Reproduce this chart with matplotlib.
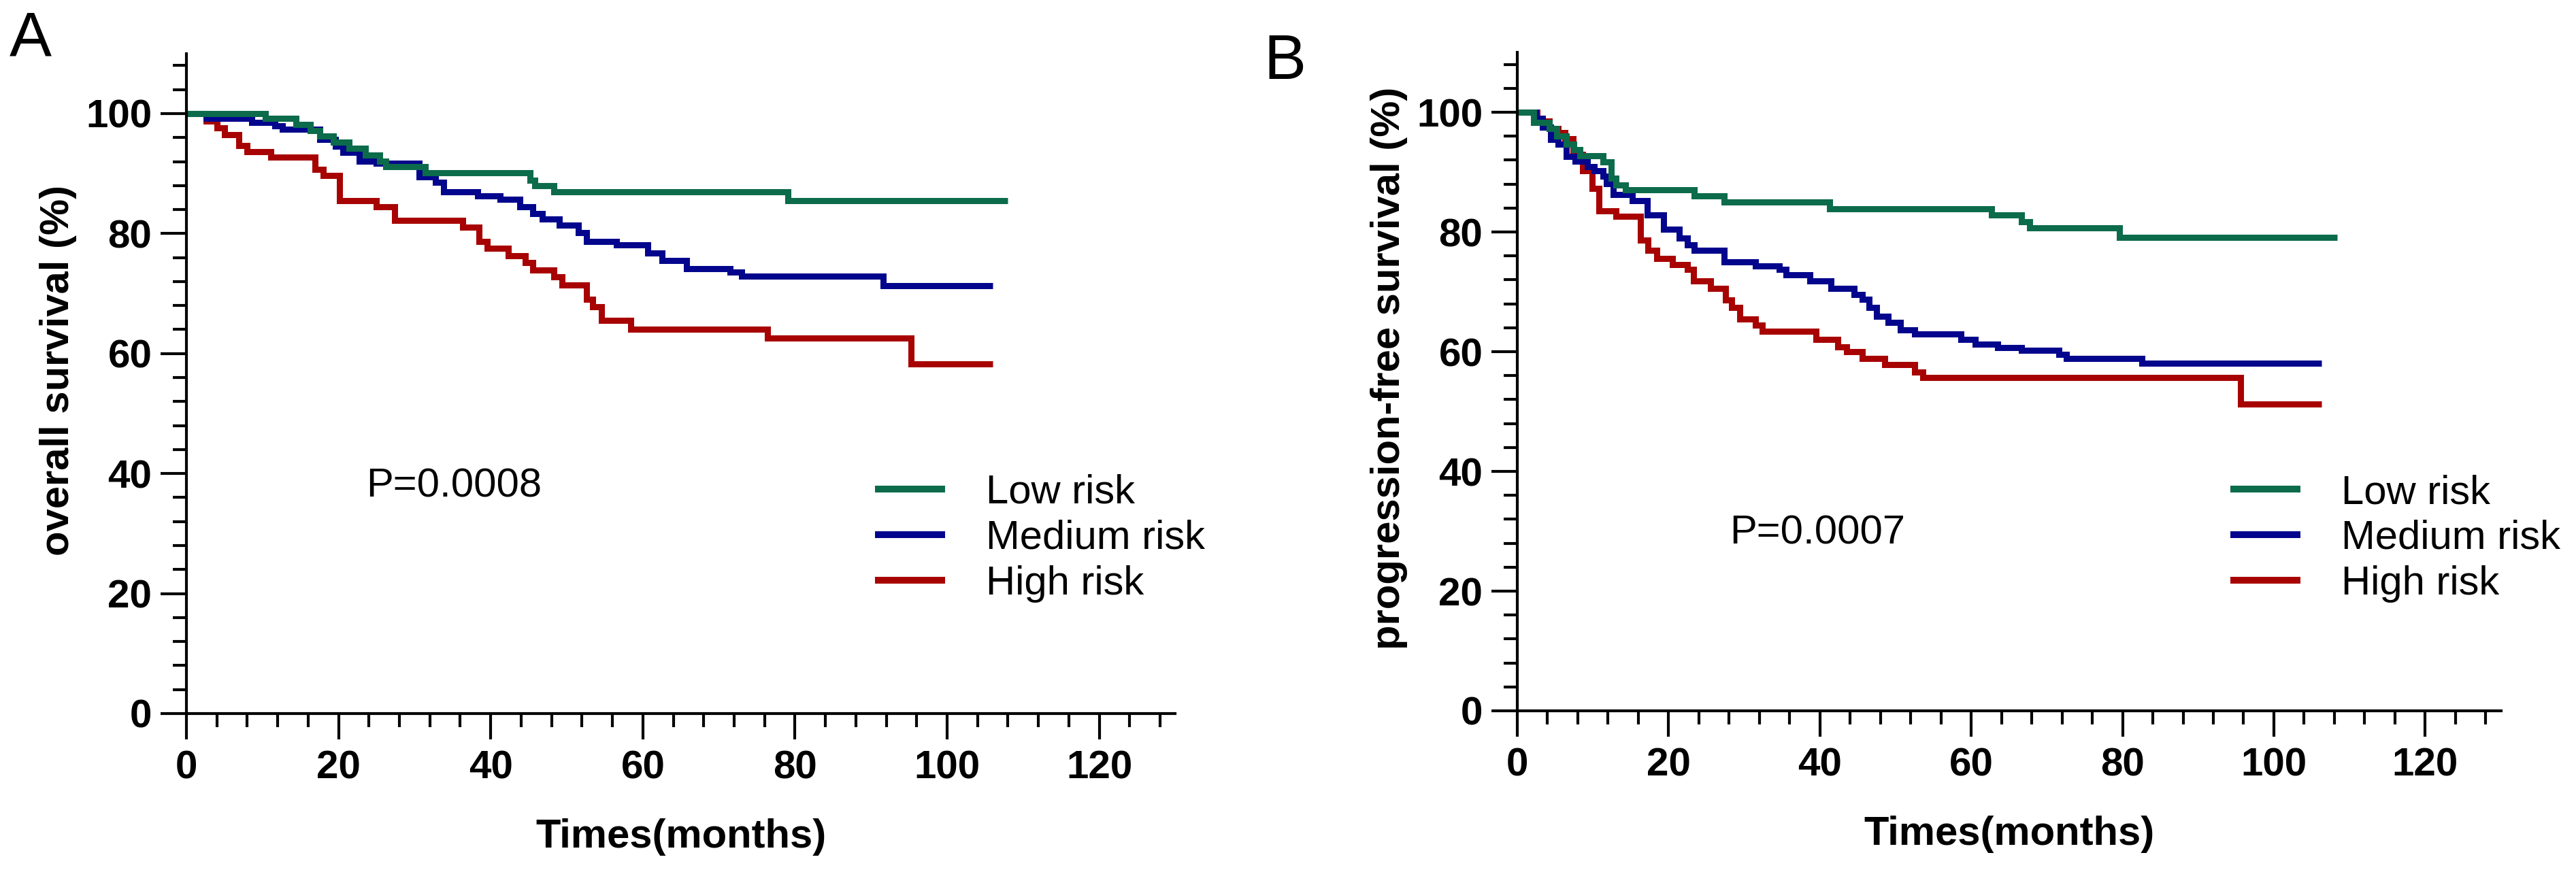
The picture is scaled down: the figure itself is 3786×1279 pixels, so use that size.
import matplotlib
matplotlib.use('Agg')
import matplotlib.pyplot as plt
from matplotlib.ticker import MultipleLocator

plt.rcParams['font.family'] = ['Liberation Sans', 'DejaVu Sans']

# ---- panel A: overall survival (%) ----
os_low_t = [0, 10.4, 14.4, 16.3, 17.5, 19.3, 21.4, 23.5, 25.4, 26.2, 31.4, 45.2, 45.8, 48.3, 79.1, 108]
os_low_s = [100, 99.2, 98.2, 97.2, 96.2, 95.2, 94.2, 93.1, 92.1, 91.1, 90.1, 88.9, 88.0, 87.0, 85.5, 85.5]

os_mid_t = [0, 2.6, 8.6, 11.6, 12.6, 17.5, 19.6, 20.6, 22.7, 25.0, 30.6, 32.7, 33.8, 38.3, 41.2, 43.8,
            45.5, 46.8, 49.0, 51.5, 52.6, 56.5, 60.6, 62.5, 65.7, 71.5, 73.0, 91.6, 106]
os_mid_s = [100, 99.2, 98.5, 97.9, 97.4, 95.7, 94.6, 93.5, 92.1, 91.7, 89.4, 88.5, 87.0, 86.3, 85.7, 84.5,
            83.3, 82.4, 81.4, 80.1, 78.7, 78.1, 76.8, 75.5, 74.2, 73.6, 72.9, 71.3, 71.3]

os_high_t = [0, 2.6, 4.0, 5.0, 6.9, 8.0, 11.1, 16.9, 18.0, 20.1, 25.0, 27.4, 36.3, 38.5, 39.5, 42.3,
             44.5, 45.5, 48.3, 49.4, 52.6, 53.4, 54.6, 58.4, 76.4, 95.3, 106]
os_high_s = [100, 98.8, 97.6, 96.5, 94.7, 93.7, 92.7, 90.7, 89.7, 85.5, 84.5, 82.2, 81.1, 78.7, 77.5, 76.3,
             75.2, 73.9, 72.8, 71.4, 69.0, 67.8, 65.5, 64.1, 62.6, 58.3, 58.3]

# ---- panel B: progression-free survival (%) ----
pfs_low_t = [0, 2.2, 4.2, 5.2, 6.5, 7.5, 8.3, 11.3, 12.4, 13.0, 14.3, 23.4, 27.3, 41.3, 62.7, 66.6, 67.7, 79.6, 108.4]
pfs_low_s = [100, 98.3, 97.3, 96.0, 94.7, 93.8, 92.7, 91.7, 89.0, 87.9, 87.0, 86.0, 85.0, 83.9, 82.8, 81.7, 80.7, 79.1, 79.1]

pfs_mid_t = [0, 2.4, 3.3, 4.4, 5.4, 6.5, 7.6, 9.3, 10.2, 11.3, 11.8, 12.7, 15.2, 17.2, 19.3, 21.4, 22.5,
             23.4, 27.3, 31.5, 34.6, 35.5, 38.7, 41.5, 44.5, 45.6, 46.5, 47.5, 49.0, 50.6, 52.5, 58.6,
             60.5, 63.5, 66.6, 71.6, 72.6, 82.6, 106.3]
pfs_mid_s = [100, 99.0, 97.5, 95.5, 94.7, 92.6, 91.8, 90.9, 90.2, 89.3, 88.1, 86.2, 85.2, 82.8, 80.5, 79.0, 77.9,
             76.9, 75.0, 74.3, 73.7, 72.9, 71.8, 70.6, 69.5, 68.8, 67.4, 65.9, 64.9, 63.6, 63.0, 62.1,
             61.3, 60.7, 60.2, 59.6, 58.9, 58.1, 58.1]

pfs_high_t = [0, 2.6, 4.2, 5.4, 6.3, 7.4, 8.6, 9.9, 10.8, 13.0, 16.3, 17.3, 18.4, 20.5, 22.5, 23.3, 25.5,
              27.5, 28.3, 29.4, 31.5, 32.4, 39.5, 42.4, 43.5, 45.6, 48.6, 52.5, 53.6, 95.6, 106.3]
pfs_high_s = [100, 98.5, 97.3, 96.6, 95.6, 93.0, 90.2, 87.3, 83.5, 82.6, 78.6, 76.9, 75.6, 74.6, 73.7, 71.8, 70.6,
              68.6, 67.4, 65.5, 64.4, 63.4, 62.1, 60.8, 60.0, 58.9, 57.8, 56.6, 55.7, 51.3, 51.3]

group_names = ['Low risk', 'Medium risk', 'High risk']
group_colors = ['#0c6b4b', '#03068c', '#a80303']
p_texts = ['P=0.0008', 'P=0.0007']
y_titles = ['overall survival (%)', 'progression-free survival (%)']
x_title = 'Times(months)'
panel_tags = ['A', 'B']


def drawPanel(ax, curves, ylabel, ptext, ppos, legpos, ylab_x):
    lines = {}
    # high first so that low risk sits on top, like the original
    for i in [2, 1, 0]:
        t, s = curves[i]
        ln, = ax.plot(t, s, drawstyle='steps-post', color=group_colors[i], lw=6.5,
                      solid_capstyle='butt', solid_joinstyle='miter', label=group_names[i])
        lines[i] = ln

    ax.set_xlim(0, 130)
    ax.set_ylim(0, 110)
    ax.xaxis.set_major_locator(MultipleLocator(20))
    ax.xaxis.set_minor_locator(MultipleLocator(4))
    ax.yaxis.set_major_locator(MultipleLocator(20))
    ax.yaxis.set_minor_locator(MultipleLocator(4))
    ax.set_xticks([0, 20, 40, 60, 80, 100, 120])
    ax.set_yticks([0, 20, 40, 60, 80, 100])

    for sp in ['top', 'right']:
        ax.spines[sp].set_visible(False)
    for sp in ['left', 'bottom']:
        ax.spines[sp].set_linewidth(3)
    ax.tick_params(which='major', direction='out', length=27.5, width=3, labelsize=42)
    ax.tick_params(which='minor', direction='out', length=14.5, width=3)
    ax.tick_params(axis='x', which='major', pad=11)
    ax.tick_params(axis='y', which='major', pad=9)
    for lab in ax.get_xticklabels() + ax.get_yticklabels():
        lab.set_fontweight('bold')

    ax.set_xlabel(x_title, fontsize=43, fontweight='bold', va='center')
    ax.xaxis.set_label_coords(0.5, -0.1875)
    ax.set_ylabel(ylabel, fontsize=43, fontweight='bold', va='center')
    ax.yaxis.set_label_coords(ylab_x, 0.52)

    ax.text(ppos[0], ppos[1], ptext, fontsize=43, ha='left', va='baseline')

    leg = ax.legend([lines[0], lines[1], lines[2]], group_names, loc='upper left',
                    bbox_to_anchor=legpos, frameon=False, fontsize=43, handlelength=1.73,
                    handletextpad=1.0, labelspacing=0.2, borderpad=0, borderaxespad=0)
    for h in leg.get_lines():
        h.set_linewidth(7.2)


fig = plt.figure(figsize=(37.87, 12.79), dpi=100)
axA = fig.add_axes([0.07235, 0.17983, 0.3838, 0.7586])
axB = fig.add_axes([0.58886, 0.18296, 0.3817, 0.7568])

drawPanel(axA, [(os_low_t, os_low_s), (os_mid_t, os_mid_s), (os_high_t, os_high_s)],
          y_titles[0], p_texts[0], (23.6, 36.1), (0.6963, 0.3628), -0.1294)
drawPanel(axB, [(pfs_low_t, pfs_low_s), (pfs_mid_t, pfs_mid_s), (pfs_high_t, pfs_high_s)],
          y_titles[1], p_texts[1], (28.1, 27.9), (0.725, 0.3595), -0.1307)

fig.text(14 / 3787, 1 - 82 / 1279, panel_tags[0], fontsize=67, ha='left', va='baseline')
fig.text(1857 / 3787, 1 - 116 / 1279, panel_tags[1], fontsize=67, ha='left', va='baseline')

fig.savefig('out.png', dpi=100)
